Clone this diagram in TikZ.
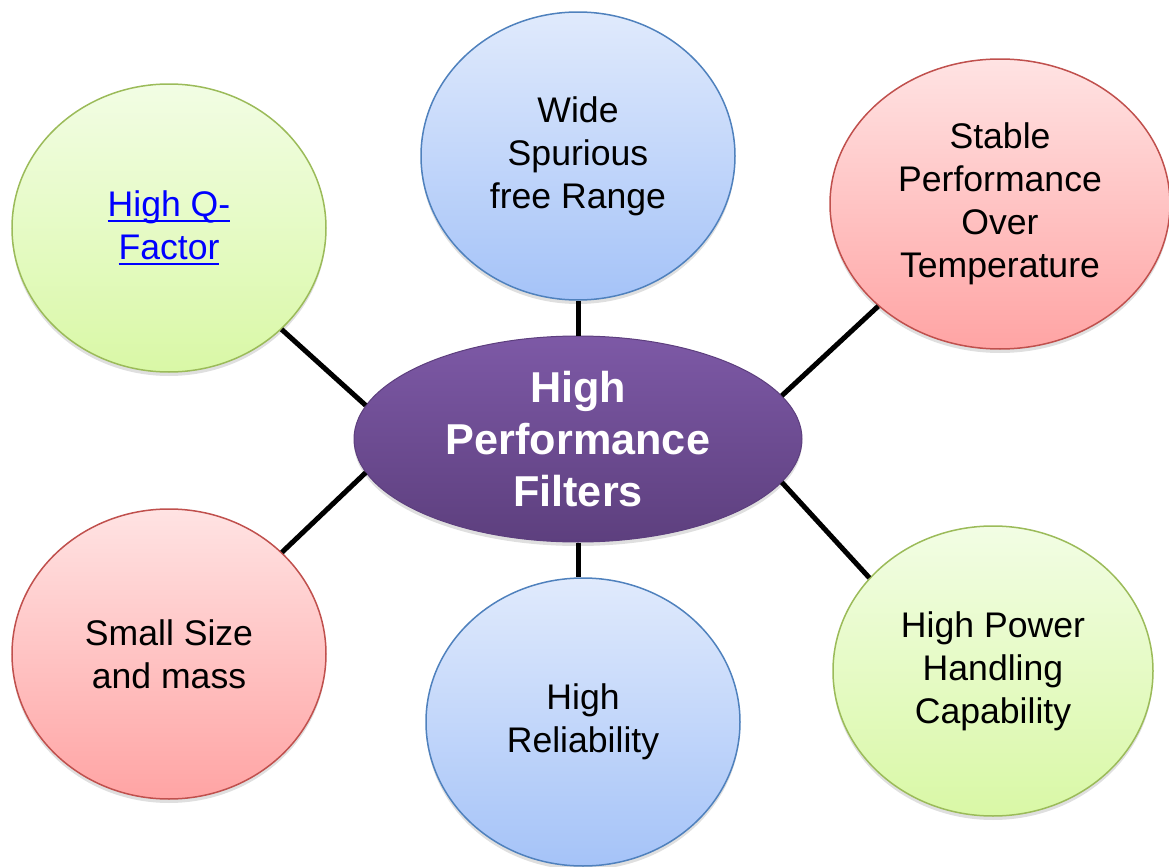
\documentclass[tikz,border=0pt]{standalone}
\usepackage{fontspec}
\setmainfont{Liberation Sans}
\usepackage{xcolor}
\usetikzlibrary{shapes.geometric,shadows}

\definecolor{greenline}{HTML}{9BBB59}
\definecolor{greentop}{HTML}{F2FDE4}
\definecolor{greenbot}{HTML}{D9F8A6}
\definecolor{blueline}{HTML}{4F81BD}
\definecolor{bluetop}{HTML}{E0EAFC}
\definecolor{bluebot}{HTML}{A5C3F8}
\definecolor{redline}{HTML}{C0504D}
\definecolor{redtop}{HTML}{FFE3E3}
\definecolor{redbot}{HTML}{FFA4A4}
\definecolor{hubtop}{HTML}{7D59A6}
\definecolor{hubbot}{HTML}{5D3F7E}
\definecolor{linkblue}{HTML}{0000FF}

% underlined link text
\newcommand\linktext[1]{\setbox0\hbox{\color{linkblue}#1}%
  \rlap{\color{linkblue}\rule[-2.6pt]{\wd0}{1pt}}\box0}

\begin{document}
\begin{tikzpicture}[
  x=0.5pt, y=-0.5pt,
  bubble/.style={ellipse, draw, line width=0.75pt, inner sep=0pt, align=center,
                 minimum width=157pt, minimum height=144pt,
                 font=\fontsize{17.8}{21.5}\selectfont,
                 drop shadow={shadow xshift=0pt, shadow yshift=-2pt, opacity=0.25}},
  greenbub/.style={bubble, draw=greenline, top color=greentop, bottom color=greenbot},
  bluebub/.style={bubble, draw=blueline, top color=bluetop, bottom color=bluebot},
  redbub/.style={bubble, draw=redline, top color=redtop, bottom color=redbot},
  hub/.style={ellipse, draw=hubbot, line width=0.5pt, inner sep=0pt, align=center,
              minimum width=224pt, minimum height=103pt, text=white,
              top color=hubtop, bottom color=hubbot,
              font=\fontsize{21.6}{26}\selectfont\bfseries,
              drop shadow={shadow xshift=0pt, shadow yshift=-2pt, opacity=0.25}},
  link/.style={line width=2.5pt, black}
]
\useasboundingbox (0,0) rectangle (1169,867);

\node[hub] (hpf) at (578,439) {High\\Performance\\Filters};

\node[greenbub] (qfac) at (169,228) {\linktext{High Q-}\\\linktext{Factor}};
\node[bluebub] (spur) at (578,156) {Wide\\Spurious\\free Range};
\node[redbub, minimum width=170pt, minimum height=145pt] (temp) at (1000,204) {Stable\\Performance\\Over\\Temperature};
\node[redbub, minimum height=145pt] (size) at (169,654) {Small Size\\and mass};
\node[bluebub] (rel) at (583,722) {High\\Reliability};
\node[greenbub, minimum width=160pt, minimum height=145pt] (power) at (993,671) {High Power\\Handling\\Capability};

\draw[link] (qfac.-42.6) -- (hpf.171.8);
\draw[link] (spur.south) -- (hpf.north);
\draw[link] (temp.220.4) -- (hpf.12.7);
\draw[link] (size.42.6) -- (hpf.189.2);
\draw[link] (hpf.south) -- (hpf.south |- rel.north);
\draw[link] (hpf.-12.2) -- (power.143.4);
\end{tikzpicture}
\end{document}
